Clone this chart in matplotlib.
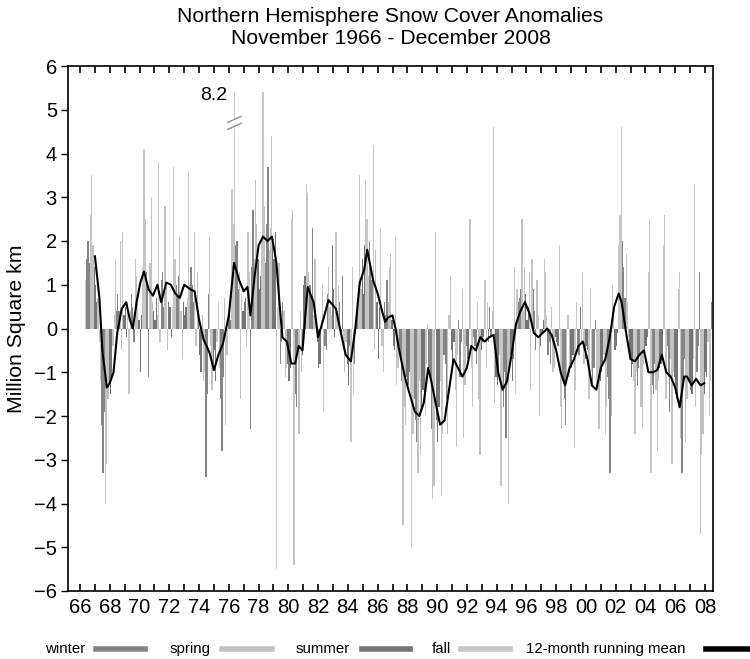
import matplotlib
matplotlib.use("Agg")
import matplotlib.pyplot as plt
from matplotlib.lines import Line2D
import numpy as np

plt.rcParams['font.family'] = ['Liberation Sans', 'DejaVu Sans']

# ---------------- data (monthly anomalies, million km^2) ----------------
start_year = 1966
start_month = 11  # November 1966
y1966 = [1.1, 1.6]  # Nov, Dec
yearly = {
    1967: [2.0, 1.5, 2.6, 3.5, 1.9, 1.4, 1.0, 0.6, 0.7, -0.3, -1.2, -2.2],
    1968: [-3.3, -1.9, -4.0, -3.1, -1.6, -1.3, -1.5, -1.1, -0.4, 0.3, 1.6, 0.4],
    1969: [0.8, 0.4, 2.0, -0.5, 2.2, 0.3, 0.5, -0.2, 0.6, -1.5, 0.4, 0.8],
    1970: [0.5, -0.3, 1.6, 1.2, 0.6, 0.2, -1.0, 0.3, 1.4, 4.1, 2.5, 1.3],
    1971: [0.9, -1.1, 1.5, 3.0, 0.6, 0.4, 0.2, 0.7, 0.3, 3.8, -0.3, 1.1],
    1972: [1.3, 0.5, 2.8, 1.0, -0.5, 0.6, 0.5, -0.2, 0.5, 3.7, 1.6, 1.0],
    1973: [0.8, 1.2, 2.1, 0.4, -0.7, 0.6, 0.3, 0.5, 0.7, 3.6, 1.0, 1.4],
    1974: [1.0, 0.6, 2.2, -0.4, 1.3, 0.4, -0.6, -1.0, 0.3, -1.2, -1.0, -3.4],
    1975: [-1.5, 0.8, 2.1, -0.4, -1.4, -0.8, -0.5, -1.2, -0.3, 0.6, -0.9, -1.6],
    1976: [-2.8, -1.1, 0.7, -2.2, -0.6, 0.3, 0.4, 0.2, 3.2, 2.4, 8.2, 1.9],
    1977: [2.0, 0.9, 1.3, -1.6, 0.8, 0.4, 0.6, 0.7, -0.4, 2.2, 1.3, -2.3],
    1978: [1.4, 2.7, 1.6, 3.4, 2.4, 1.6, 0.9, 1.2, 2.0, 5.4, 2.8, 1.5],
    1979: [2.4, 3.7, 1.8, 2.3, 4.4, 2.0, 1.6, 2.2, -5.5, 0.5, 1.5, -0.8],
    1980: [-0.3, 0.6, 0.4, -1.1, -0.9, -0.8, -1.2, -0.9, 2.5, 2.7, -5.4, -1.5],
    1981: [-1.8, -0.6, -2.4, 0.4, -1.0, -0.6, 1.0, 1.2, 3.3, 3.1, 1.3, 1.0],
    1982: [0.7, 2.3, 0.3, 1.6, -0.2, -0.3, -0.9, -0.8, 0.2, 1.0, -1.9, -0.4],
    1983: [-0.5, 0.8, 1.4, 0.5, 0.3, 1.9, 0.9, -0.2, 2.2, 0.4, 1.0, 0.6],
    1984: [-0.1, 1.2, -0.5, -1.0, -0.3, -0.8, -1.3, -0.4, -2.6, 1.4, -1.5, -0.8],
    1985: [0.2, 0.7, 1.0, 3.5, 0.9, 1.6, 0.8, 1.9, 3.4, 2.5, 1.2, 2.0],
    1986: [1.5, 1.1, 4.2, -0.5, 1.8, 0.6, -0.7, 0.5, 2.3, -0.4, -1.0, 0.6],
    1987: [0.3, 1.1, 0.6, 1.4, 1.7, 0.2, -0.4, -0.5, 2.1, -1.3, -0.9, -0.4],
    1988: [-0.6, -1.2, -4.5, -1.8, -2.2, -1.1, -1.3, -1.0, -1.4, -5.0, -2.4, -1.6],
    1989: [-2.1, -2.6, -3.3, -1.2, -2.9, -1.8, -1.4, -1.5, -2.0, -0.8, 0.1, -0.9],
    1990: [-1.2, -2.3, -3.9, -3.6, 2.2, -2.1, -2.6, -1.8, -1.2, -3.8, -2.4, -0.6],
    1991: [-0.8, -1.6, -2.4, 0.3, 1.2, -0.5, -0.8, -0.3, -1.4, -2.7, -0.6, 0.2],
    1992: [-1.1, -0.3, 0.9, -2.5, -1.3, -0.4, -0.7, -0.6, 2.5, -0.9, -1.8, -0.2],
    1993: [-0.4, -0.8, 0.6, -1.6, -2.9, -0.5, -0.3, -0.2, 1.1, -0.9, 0.6, -0.3],
    1994: [0.5, -0.2, 0.4, 4.6, -1.7, -1.1, -1.3, -1.0, -0.6, -3.6, -1.4, -1.8],
    1995: [-1.0, -2.5, -1.3, -4.0, -0.9, -0.6, -1.2, -0.7, 1.4, -1.5, 0.9, 0.6],
    1996: [0.7, 0.9, 2.5, 0.4, 1.4, 0.8, 0.2, 0.5, 1.3, -1.4, 1.6, 0.9],
    1997: [0.4, -0.5, 1.1, 0.3, -2.0, -0.4, -0.1, 0.2, 1.6, 1.3, 0.3, -0.6],
    1998: [-0.3, -0.8, 0.5, -1.0, -0.9, -0.2, -0.3, -0.4, 1.9, -1.8, -2.3, -1.2],
    1999: [-1.6, -2.2, -1.3, 0.3, -1.1, -0.8, -0.9, -0.6, -2.7, -1.4, 0.6, -0.5],
    2000: [-0.6, 0.5, -0.3, 1.3, -0.8, -0.7, -0.4, -0.5, -1.6, 0.9, -1.0, -1.3],
    2001: [-0.9, 0.2, -1.4, -1.1, -2.3, -1.2, -1.0, -0.8, -0.6, -2.4, -1.8, -1.1],
    2002: [-1.6, -3.3, -2.0, 1.0, 0.3, -0.5, -0.4, -0.1, 1.9, 2.6, 4.6, 2.0],
    2003: [1.4, 0.7, 1.7, 0.6, -0.2, -0.7, -1.1, -0.8, -1.2, -2.4, -1.0, -1.3],
    2004: [-0.9, -0.6, -1.8, -2.3, -0.8, -0.5, -0.4, -0.2, 1.3, 2.5, -3.3, -1.3],
    2005: [-1.5, -0.8, -1.4, -2.8, -1.2, -0.9, -0.8, -0.6, 1.9, 2.6, -1.6, -0.4],
    2006: [-1.1, -1.9, -0.7, -3.1, -1.0, -1.1, -1.5, -1.6, 0.9, 1.3, -2.5, -3.3],
    2007: [-1.3, -0.7, -2.6, -1.6, -1.1, -1.2, -1.4, -1.5, -0.7, 3.3, -1.8, -1.0],
    2008: [-0.4, 1.3, -4.7, -2.9, -2.4, -1.5, -1.0, -1.1, -0.3, -2.0, -1.2, 0.6],
}

# 12-month running mean
mean_t = [1967.5, 1967.8, 1968.0, 1968.3, 1968.5, 1968.75, 1969.0, 1969.3, 1969.6, 1969.85,
          1970.05, 1970.3, 1970.55, 1970.8, 1971.1, 1971.4, 1971.7, 1971.95, 1972.3, 1972.6,
          1972.9, 1973.2, 1973.5, 1973.9, 1974.2, 1974.5, 1974.8, 1975.2, 1975.5, 1975.8,
          1976.1, 1976.5, 1976.85, 1977.2, 1977.5, 1977.75, 1977.95, 1978.25, 1978.5, 1978.8,
          1979.1, 1979.4, 1979.7, 1979.9, 1980.1, 1980.4, 1980.7, 1980.95, 1981.2, 1981.45,
          1981.8, 1982.2, 1982.5, 1982.8, 1983.2, 1983.45, 1983.7, 1984.0, 1984.35, 1984.7,
          1985.0, 1985.3, 1985.6, 1985.8, 1986.0, 1986.2, 1986.5, 1986.8, 1987.0, 1987.2,
          1987.5, 1987.7, 1987.9, 1988.1, 1988.4, 1988.7, 1989.0, 1989.3, 1989.6, 1989.9,
          1990.1, 1990.4, 1990.7, 1991.0, 1991.3, 1991.6, 1991.9, 1992.2, 1992.5, 1992.8,
          1993.1, 1993.4, 1993.7, 1994.0, 1994.3, 1994.6, 1994.9, 1995.2, 1995.5, 1995.8,
          1996.1, 1996.4, 1996.7, 1997.0, 1997.3, 1997.6, 1997.9, 1998.2, 1998.5, 1998.8,
          1999.1, 1999.4, 1999.7, 2000.0, 2000.3, 2000.6, 2000.9, 2001.2, 2001.5, 2001.8,
          2002.1, 2002.4, 2002.7, 2002.9, 2003.2, 2003.5, 2003.8, 2004.1, 2004.4, 2004.7,
          2005.0, 2005.3, 2005.6, 2005.9, 2006.2, 2006.5, 2006.8, 2007.1, 2007.3, 2007.6,
          2007.9, 2008.2, 2008.45]
mean_v = [1.65, 0.7, -0.5, -1.35, -1.25, -1.0, -0.1, 0.45, 0.6, 0.2,
          0.0, 0.6, 1.05, 1.3, 0.9, 0.75, 1.0, 0.6, 1.05, 1.0,
          0.8, 0.7, 1.0, 0.9, 0.85, 0.2, -0.25, -0.55, -0.95, -0.6,
          -0.35, 0.3, 1.5, 1.1, 0.85, 0.95, 0.3, 1.25, 1.9, 2.1,
          2.0, 2.1, 1.5, 0.6, -0.2, -0.3, -0.8, -0.8, -0.4, -0.5,
          0.95, 0.6, -0.2, 0.15, 0.65, 0.55, 0.45, -0.05, -0.6, -0.75,
          0.0, 1.05, 1.35, 1.8, 1.45, 1.1, 0.8, 0.4, 0.15, 0.25,
          0.3, 0.0, -0.4, -0.75, -1.2, -1.55, -1.9, -2.0, -1.7, -0.9,
          -1.2, -1.7, -2.2, -2.1, -1.4, -0.7, -0.9, -1.1, -0.9, -0.4,
          -0.5, -0.2, -0.3, -0.2, -0.15, -1.0, -1.4, -1.2, -0.6, 0.1,
          0.4, 0.6, 0.35, -0.1, -0.2, -0.1, 0.0, -0.15, -0.5, -1.0,
          -1.3, -0.9, -0.7, -0.4, -0.3, -0.7, -1.3, -1.4, -0.9, -0.7,
          -0.2, 0.5, 0.8, 0.6, -0.1, -0.7, -0.75, -0.6, -0.5, -1.0,
          -1.0, -0.95, -0.6, -1.0, -1.1, -1.35, -1.8, -1.1, -1.1, -1.3,
          -1.15, -1.3, -1.25]

season_names = ["winter", "spring", "summer", "fall"]
season_colors = ["#858585", "#c2c2c2", "#757575", "#c6c6c6"]
tick_years = list(range(1966, 2009, 2))
tick_labels = [f"{y % 100:02d}" for y in tick_years]
break_value = 8.2
clip_top = 5.4

# ---------------- assemble monthly series ----------------
xs, vals, cols = [], [], []
def season_of(m):
    if m in (12, 1, 2):
        return 0
    if m in (3, 4, 5):
        return 1
    if m in (6, 7, 8):
        return 2
    return 3

for i, v in enumerate(y1966):
    m = start_month + i
    xs.append(start_year + (m - 0.5) / 12); vals.append(v); cols.append(season_colors[season_of(m)])
for yr in sorted(yearly):
    for m, v in enumerate(yearly[yr], start=1):
        xs.append(yr + (m - 0.5) / 12); vals.append(v); cols.append(season_colors[season_of(m)])

xs = np.array(xs); vals = np.array(vals)
draw_vals = np.where(vals > clip_top, clip_top, vals)

# ---------------- figure ----------------
W, H = 750, 659
ax_l, ax_r, ax_t, ax_b = 68, 713, 66, 591
fig = plt.figure(figsize=(W/100, H/100), dpi=100)
ax = fig.add_axes([ax_l/W, 1 - ax_b/H, (ax_r - ax_l)/W, (ax_b - ax_t)/H])

ax.bar(xs, draw_vals, width=1/12, color=cols, linewidth=0, zorder=2)
ax.plot(mean_t, mean_v, color="black", lw=1.5, zorder=3)

# break marks on the clipped bar
bx = xs[np.argmax(vals)]
ax.fill_between([bx - 0.1, bx + 0.1], 4.62, 4.78, color="white", zorder=3.5)
for yb in (4.62, 4.78):
    ax.plot([bx - 0.45, bx + 0.45], [yb - 0.07, yb + 0.07], color="#909090", lw=1.0, zorder=4)
ax.text(bx - 0.5, 5.32, f"{break_value}", ha="right", va="center", fontsize=14)

ax.set_xlim(1965.69, 2009.04)
ax.set_ylim(-6, 6)
ax.set_yticks(range(-6, 7))
ax.set_yticklabels([("\u2212" + str(-t)) if t < 0 else str(t) for t in range(-6, 7)])
ax.set_xticks([y + 0.5 for y in tick_years])
ax.set_xticklabels(tick_labels)
ax.set_xticks([y + 0.5 for y in range(1966, 2009)], minor=True)
ax.tick_params(axis="x", which="both", direction="in", top=True, bottom=True,
               length=5, width=1.2, labelsize=14.5, pad=5)
ax.tick_params(axis="y", direction="out", length=5, width=1, labelsize=14.5, pad=3)
for s in ax.spines.values():
    s.set_linewidth(1.2)

ax.set_ylabel("Million Square km", fontsize=15.3, labelpad=6)
cx = (ax_l + ax_r) / 2 / W
fig.text(cx, 1 - 17/H, "Northern Hemisphere Snow Cover Anomalies",
         ha="center", va="center", fontsize=15.2)
fig.text(cx, 1 - 38/H, "November 1966 - December 2008",
         ha="center", va="center", fontsize=15.2)

# legend drawn along the bottom
ly = 1 - 649/H
legend_items = [("winter", 45, 96, 145, season_colors[0]),
                ("spring", 170, 222, 272, season_colors[1]),
                ("summer", 296, 362, 410, season_colors[2]),
                ("fall", 432, 461, 510, season_colors[3]),
                ("12-month running mean", 526, 706, 752, "black")]
for label, tx, s0, s1, c in legend_items:
    fig.text(tx/W, ly, label, ha="left", va="center", fontsize=10.8)
    fig.add_artist(Line2D([s0/W, s1/W], [ly, ly], color=c, lw=4,
                          transform=fig.transFigure))

fig.savefig("out.png", dpi=100)
